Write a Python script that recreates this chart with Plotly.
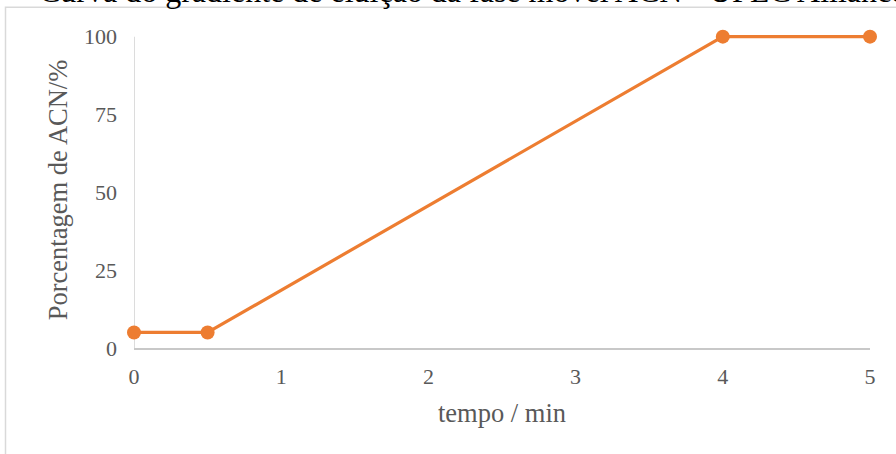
import plotly.graph_objects as go

tempo = [0, 0.5, 4, 5]
acn = [5, 5, 100, 100]
x_ticks = [0, 1, 2, 3, 4, 5]
y_ticks = [0, 25, 50, 75, 100]
title = "Curva do gradiente de eluição da fase móvel ACN - UPLC Alliance"

W, H = 896, 454
Y_MAX = 101.5
unit = 311 / 100.0
L, R, B = 134, 26, 106
T = 37 - (Y_MAX - 100) * unit
pw, ph = W - L - R, H - T - B

def px_to_paper_x(px):
    return (px - L) / pw

def px_to_paper_y(py):
    return (H - B - py) / ph

font_family = "Liberation Serif, Times New Roman, serif"
gray = "#595959"

fig = go.Figure()
fig.add_trace(go.Scatter(
    x=tempo, y=acn, mode="lines+markers",
    line=dict(color="#ED7D31", width=3.2),
    marker=dict(color="#ED7D31", size=14),
    showlegend=False, cliponaxis=False,
))

fig.update_layout(
    width=W, height=H,
    margin=dict(l=L, r=R, t=T, b=B),
    paper_bgcolor="white", plot_bgcolor="white",
    font=dict(family=font_family, color=gray, size=22),
    xaxis=dict(
        range=[0, 5], tickvals=x_ticks, showgrid=False, zeroline=False,
        showline=True, linecolor="#C8C8C8", linewidth=2,
        ticks="", ticklabelstandoff=8, tickfont=dict(size=22, color=gray),
        title=dict(text="tempo / min", font=dict(size=26.5, color=gray), standoff=15),
    ),
    yaxis=dict(
        range=[0, Y_MAX], tickvals=y_ticks, showgrid=False, zeroline=False,
        showline=False,
        ticks="", ticklabelstandoff=16, tickfont=dict(size=22, color=gray),
        title=dict(text="Porcentagem de ACN/%", font=dict(size=26.5, color=gray), standoff=8),
    ),
    shapes=[
        dict(
            type="rect", xref="paper", yref="paper", layer="below",
            x0=px_to_paper_x(5.5), x1=px_to_paper_x(W + 20),
            y0=px_to_paper_y(H + 20), y1=px_to_paper_y(7.5),
            line=dict(color="#D9D9D9", width=1.5), fillcolor="rgba(0,0,0,0)",
        ),
        dict(
            type="line", xref="x", yref="y", layer="below",
            x0=x_ticks[0], x1=x_ticks[0], y0=y_ticks[0], y1=y_ticks[-1],
            line=dict(color="#D0D0D0", width=1.5),
        ),
    ],
    annotations=[dict(
        text=title, xref="paper", yref="paper",
        x=px_to_paper_x(37), y=px_to_paper_y(11),
        xanchor="left", yanchor="bottom", showarrow=False,
        font=dict(family=font_family, size=32, color="#000000"),
    )],
)

fig.write_html("out.html")
